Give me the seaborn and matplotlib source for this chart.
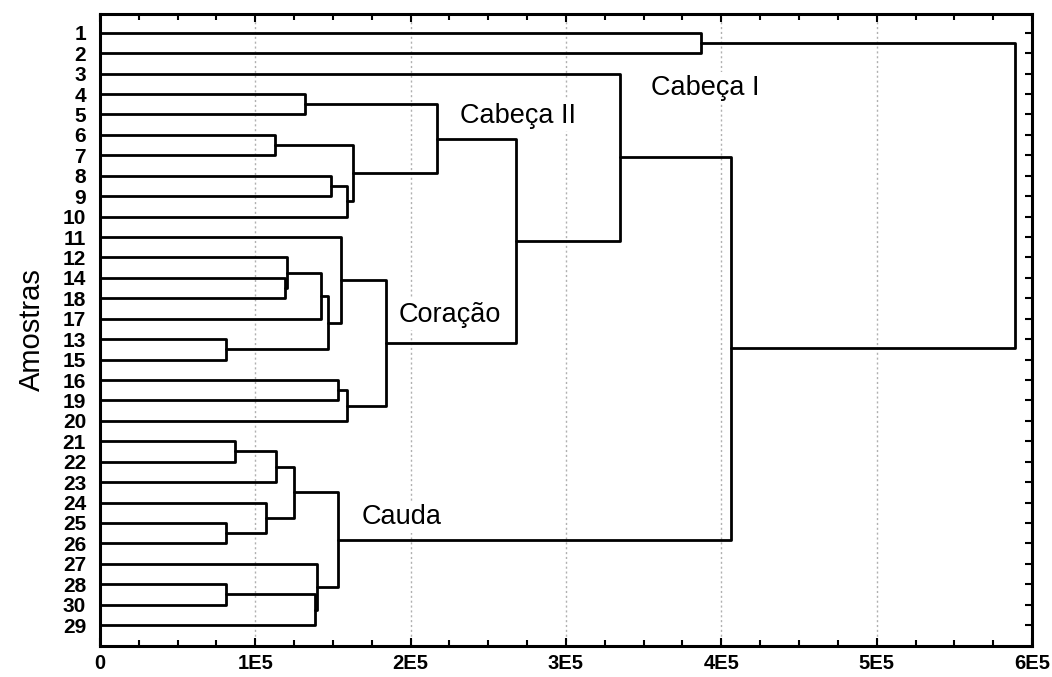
import numpy as np
import pandas as pd
import matplotlib
matplotlib.use("Agg")
import matplotlib.pyplot as plt
import seaborn as sns
from matplotlib.ticker import FixedLocator, MultipleLocator

# ---- data ----
leaf_labels = ["1", "2", "3", "4", "5", "6", "7", "8", "9", "10",
               "11", "12", "14", "18", "17", "13", "15", "16", "19", "20",
               "21", "22", "23", "24", "25", "26", "27", "28", "30", "29"]

# linkage steps: cluster c{k} = merge_a[k] + merge_b[k] at merge_height[k]
merge_a = ["14", "12", "c1", "13", "c2", "11", "16", "c6", "c5",
           "4", "6", "8", "c11", "c10", "c9", "c14", "3",
           "21", "c17", "25", "24", "c18", "28", "c22", "27", "c21",
           "c16", "1", "c27"]
merge_b = ["18", "c0", "17", "15", "c3", "c4", "19", "20", "c7",
           "5", "7", "9", "10", "c12", "c13", "c8", "c15",
           "22", "23", "26", "c19", "c20", "30", "29", "c23", "c24",
           "c25", "2", "c26"]
merge_height = [1.19e5, 1.205e5, 1.42e5, 0.81e5, 1.47e5, 1.55e5, 1.53e5, 1.59e5, 1.84e5,
                1.32e5, 1.13e5, 1.49e5, 1.59e5, 1.63e5, 2.17e5, 2.68e5, 3.35e5,
                0.87e5, 1.135e5, 0.81e5, 1.07e5, 1.25e5, 0.81e5, 1.385e5, 1.395e5, 1.535e5,
                4.06e5, 3.87e5, 5.89e5]

x_ticks = [0, 1e5, 2e5, 3e5, 4e5, 5e5, 6e5]
x_tick_labels = ["0", "1E5", "2E5", "3E5", "4E5", "5E5", "6E5"]
group_names = ["Cabeça I", "Cabeça II", "Coração", "Cauda"]
y_label = "Amostras"

# ---- build dendrogram segments ----
pos = {lab: i for i, lab in enumerate(leaf_labels)}
hgt = {lab: 0.0 for lab in leaf_labels}
rows = []
for k, (a, b, h) in enumerate(zip(merge_a, merge_b, merge_height)):
    name = f"c{k}"
    pts = [(hgt[a], pos[a]), (h, pos[a]), (h, pos[b]), (hgt[b], pos[b])]
    for j, (x, y) in enumerate(pts):
        rows.append({"seg": k, "order": j, "x": x, "y": y})
    pos[name] = (pos[a] + pos[b]) / 2.0
    hgt[name] = h
df = pd.DataFrame(rows)

# ---- plot ----
sns.set_style("white")
plt.rcParams["font.family"] = ["Liberation Sans", "DejaVu Sans"]
for key in ["text.color", "axes.labelcolor", "xtick.color", "ytick.color"]:
    plt.rcParams[key] = "black"

fig = plt.figure(figsize=(10.52, 6.77), dpi=100)
ax = fig.add_axes([0.095, 0.0456, 0.886, 0.934])

for xt in x_ticks[1:-1]:
    ax.axvline(xt, color="#b0b0b0", lw=1.0, ls=(0, (1.5, 2)), zorder=0)

sns.lineplot(data=df, x="x", y="y", units="seg", estimator=None, sort=False,
             color="black", lw=2.0, ax=ax, zorder=3, legend=False)

ax.set_xlim(0, 6e5)
ax.set_ylim(len(leaf_labels) - 1 + 1.03, -0.93)

ax.xaxis.set_major_locator(FixedLocator(x_ticks))
ax.set_xticklabels(x_tick_labels, fontsize=14.5, fontweight="bold")
ax.xaxis.set_minor_locator(MultipleLocator(0.25e5))
ax.set_yticks(range(len(leaf_labels)))
ax.set_yticklabels(leaf_labels, fontsize=15, fontweight="bold")

ax.tick_params(axis="x", which="both", direction="in", top=True, bottom=True,
               width=1.5, pad=6)
ax.tick_params(axis="x", which="major", length=6)
ax.tick_params(axis="x", which="minor", length=4)
ax.tick_params(axis="y", direction="in", left=False, right=True, length=5,
               width=1.5, pad=10)

for sp in ax.spines.values():
    sp.set_visible(True)
    sp.set_color("black")
    sp.set_linewidth(2.2)

ax.set_xlabel("")
ax.set_ylabel(y_label, fontsize=21, labelpad=12)

text_pos = [(3.55e5, 2.7), (2.32e5, 4.05), (1.92e5, 13.8), (1.685e5, 23.7)]
for name, (tx, ty) in zip(group_names, text_pos):
    ax.text(tx, ty, name, fontsize=19.5, va="center", ha="left", zorder=2,
            bbox=dict(facecolor="white", edgecolor="none", pad=2))

fig.savefig("out.png", dpi=100)
